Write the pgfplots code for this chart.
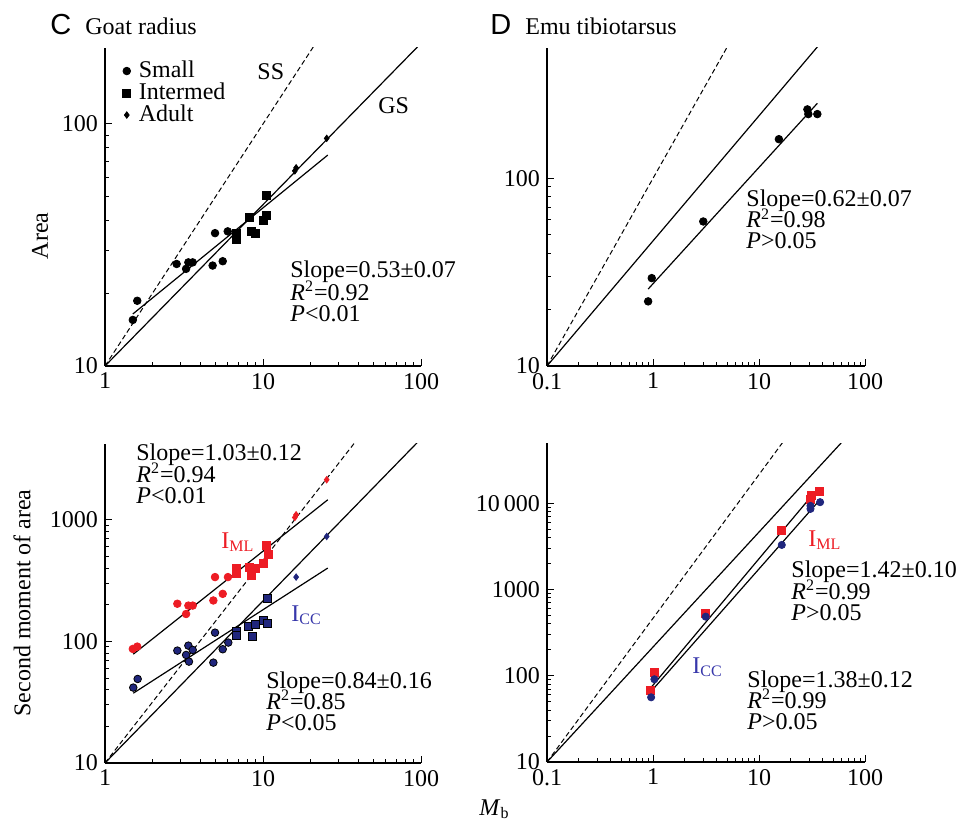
\documentclass[border=0pt]{standalone}
\usepackage{pgfplots}
\pgfplotsset{compat=1.18}
\usepackage{fontspec}
\setmainfont{Liberation Serif}
\setsansfont{Liberation Sans}
\definecolor{myred}{RGB}{237,28,36}
\definecolor{myblue}{RGB}{32,38,125}
\definecolor{textblue}{RGB}{55,55,170}
\newcommand{\fs}{\fontsize{12}{12}\selectfont}
\pgfplotsset{
 figaxis/.style={
  scale only axis,
  axis lines*=left,
  axis line style={line width=0.6pt},
  tick align=inside,
  major tick length=3.5pt, minor tick length=2pt,
  every tick/.style={black, line width=0.5pt},
  tick label style={font=\fs},
  anchor=south west,
 },
 reg/.style={black, line width=0.6pt, no marks},
 ss/.style={black, line width=0.5pt, no marks, dash pattern=on 2.5pt off 1.5pt},
}
\begin{document}
\begin{tikzpicture}
\useasboundingbox (0pt,0pt) rectangle (478pt,-411.5pt);
% ---------------- C top: Area
\begin{loglogaxis}[figaxis, at={(52.5pt,-183pt)}, width=158pt, height=159pt,
  xmin=1, xmax=100, ymin=10, ymax=206,
  xtick={1,10,100}, xticklabels={1,10,100},
  ytick={10,100}, yticklabels={10,100},
  legend cell align=left,
  legend style={at={(rel axis cs:0.055,0.965)}, anchor=north west, draw=none, fill=none,
    font=\fs, row sep=-0.5pt, inner sep=0pt,
    nodes={inner ysep=0.5pt, inner xsep=1.5pt, text height=8.5pt, text depth=2pt},
    /tikz/every odd column/.append style={column sep=2.5pt}},
]
\addplot[only marks, mark=*, mark size=1.9pt, black] coordinates {
(1.50,15.5) (1.60,18.6) (2.84,26.4) (3.26,25.2) (3.37,26.8) (3.59,26.8)
(4.80,26.0) (5.56,27.1) (4.97,35.4) (5.98,36.0)};
\addlegendentry{Small}
\addplot[only marks, mark=square*, mark size=2pt, black] coordinates {
(6.82,35.4) (6.82,33.2) (8.15,41.2) (8.48,36.0) (8.90,35.4) (10.0,40.0) (10.5,41.9) (10.5,50.8)};
\addlegendentry{Intermed}
\addplot[only marks, mark=diamond*, mark size=1.6pt, black] coordinates {
(15.9,64.0) (16.2,65.9) (25.3,87.2)};
\addlegendentry{Adult}
\addplot[ss, forget plot] coordinates {(1,10) (21,210)};
\addplot[reg, forget plot] coordinates {(1,10) (100,215.4)};
\addplot[reg, forget plot] coordinates {(1.50,16.4) (25.7,74.4)};
\end{loglogaxis}
% ---------------- D top: Area
\begin{loglogaxis}[figaxis, at={(273.5pt,-183pt)}, width=159pt, height=159pt,
  xmin=0.1, xmax=100, ymin=10, ymax=495,
  xtick={0.1,1,10,100}, xticklabels={0.1,1,10,100},
  ytick={10,100}, yticklabels={10,100},
]
\addplot[only marks, mark=*, mark size=1.9pt, black] coordinates {
(0.973,29.4) (0.90,22.1) (2.98,58.9) (15.4,161.7) (28.6,233) (29.2,220) (35.5,220)};
\addplot[ss] coordinates {(0.1,10) (5,500)};
\addplot[reg] coordinates {(0.1,10) (100,1000)};
\addplot[reg] coordinates {(0.90,25.7) (35.5,251)};
\end{loglogaxis}
% ---------------- C bottom: second moment
\begin{loglogaxis}[figaxis, at={(52.5pt,-381.5pt)}, width=158pt, height=159.5pt,
  xmin=1, xmax=100, ymin=10, ymax=4200,
  xtick={1,10,100}, xticklabels={1,10,100},
  ytick={10,100,1000}, yticklabels={10,100,1000},
]
\addplot[only marks, mark=*, mark size=1.9pt, myred] coordinates {
(1.50,86.7) (1.60,90.6) (2.87,204) (3.26,168) (3.37,197) (3.59,197)
(4.85,217) (5.56,246) (4.97,338) (6.0,338)};
\addplot[only marks, mark=square*, mark size=2pt, myred] coordinates {
(6.82,395) (6.82,364) (8.15,408) (8.90,400) (8.48,346) (10.0,440) (10.5,611) (10.8,515)};
\addplot[only marks, mark=diamond*, mark size=1.6pt, myred] coordinates {
(15.9,1045) (16.2,1099) (25.3,2134)};
\addplot[only marks, mark=*, mark size=1.9pt, fill=myblue, draw=black, line width=0.4pt] coordinates {
(1.51,41.7) (1.61,49.1) (2.87,84.0) (3.26,77.4) (3.37,92.3) (3.59,85.1) (3.40,68.2)
(4.85,66.9) (4.97,118) (5.56,86.2) (6.03,97.8)};
\addplot[only marks, mark=square*, mark size=2pt, fill=myblue, draw=black, line width=0.4pt] coordinates {
(6.82,120) (6.82,112) (8.06,132) (8.99,137) (10.0,150) (10.7,141) (8.55,110) (10.6,224)};
\addplot[only marks, mark=diamond*, mark size=1.6pt, myblue] coordinates {
(16.2,338) (25.3,729)};
\addplot[ss] coordinates {(1,10) (40,4680)};
\addplot[reg] coordinates {(1,10) (100,4640)};
\addplot[reg] coordinates {(1.51,78.5) (25.7,1461)};
\addplot[reg] coordinates {(1.51,37.5) (25.7,401)};
\end{loglogaxis}
% ---------------- D bottom: second moment
\begin{loglogaxis}[figaxis, at={(273.5pt,-381pt)}, width=159pt, height=159.5pt,
  xmin=0.1, xmax=100, ymin=10, ymax=50000,
  xtick={0.1,1,10,100}, xticklabels={0.1,1,10,100},
  ytick={10,100,1000,10000}, yticklabels={10,100,1000,10\,000},
]
\addplot[only marks, mark=square*, mark size=2pt, myred] coordinates {
(0.95,67.2) (1.03,110) (3.14,531) (16.2,4786) (30.3,11160) (31.2,12500) (37.2,13900)};
\addplot[only marks, mark=*, mark size=1.8pt, myblue] coordinates {
(0.96,56.3) (1.03,91.1) (3.14,485) (16.4,3290) (30.6,9330) (30.6,8610) (37.7,10300)};
\addplot[ss] coordinates {(0.1,10) (20,68400)};
\addplot[reg] coordinates {(0.1,10) (100,100000)};
\addplot[reg] coordinates {(0.973,74.8) (33.0,13100)};
\addplot[reg] coordinates {(0.973,67.2) (36.3,10470)};
\end{loglogaxis}
% ---------------- annotations (pixel coordinates)
\begin{scope}[x=0.5pt, y=-0.5pt, every node/.style={font=\fs, inner sep=0pt, anchor=base west, text height=8pt, text depth=1.5pt}]
\node[font=\sffamily\fontsize{14.5}{14.5}\selectfont] at (50,35) {C};
\node at (85,35) {Goat radius};
\node[font=\sffamily\fontsize{14.5}{14.5}\selectfont] at (490,35) {D};
\node at (525,35) {Emu tibiotarsus};
\node at (257,80) {SS};
\node at (378,114) {GS};
\node at (290,278) {Slope=0.53±0.07};
\node at (290,300) {\textit{R}\textsuperscript{2}=0.92};
\node at (290,321) {\textit{P}<0.01};
\node at (746,207) {Slope=0.62±0.07};
\node at (746,228) {\textit{R}\textsuperscript{2}=0.98};
\node at (746,249) {\textit{P}>0.05};
\node at (136,460) {Slope=1.03±0.12};
\node at (136,482) {\textit{R}\textsuperscript{2}=0.94};
\node at (136,503) {\textit{P}<0.01};
\node[text=myred] at (221,548) {I\textsubscript{ML}};
\node[text=textblue] at (291,621) {I\textsubscript{CC}};
\node at (266,688) {Slope=0.84±0.16};
\node at (266,709) {\textit{R}\textsuperscript{2}=0.85};
\node at (266,730) {\textit{P}<0.05};
\node[text=myred] at (808,546) {I\textsubscript{ML}};
\node at (791,577) {Slope=1.42±0.10};
\node at (791,599) {\textit{R}\textsuperscript{2}=0.99};
\node at (791,620) {\textit{P}>0.05};
\node[text=textblue] at (692,673) {I\textsubscript{CC}};
\node at (747,687) {Slope=1.38±0.12};
\node at (747,708) {\textit{R}\textsuperscript{2}=0.99};
\node at (747,729) {\textit{P}>0.05};
\node at (479,815) {\textit{M}\textsubscript{b}};
\node[rotate=90, anchor=center, text height=, text depth=] at (40,236) {Area};
\node[rotate=90, anchor=center, text height=, text depth=] at (22,603) {Second moment of area};
\end{scope}
\end{tikzpicture}
\end{document}
